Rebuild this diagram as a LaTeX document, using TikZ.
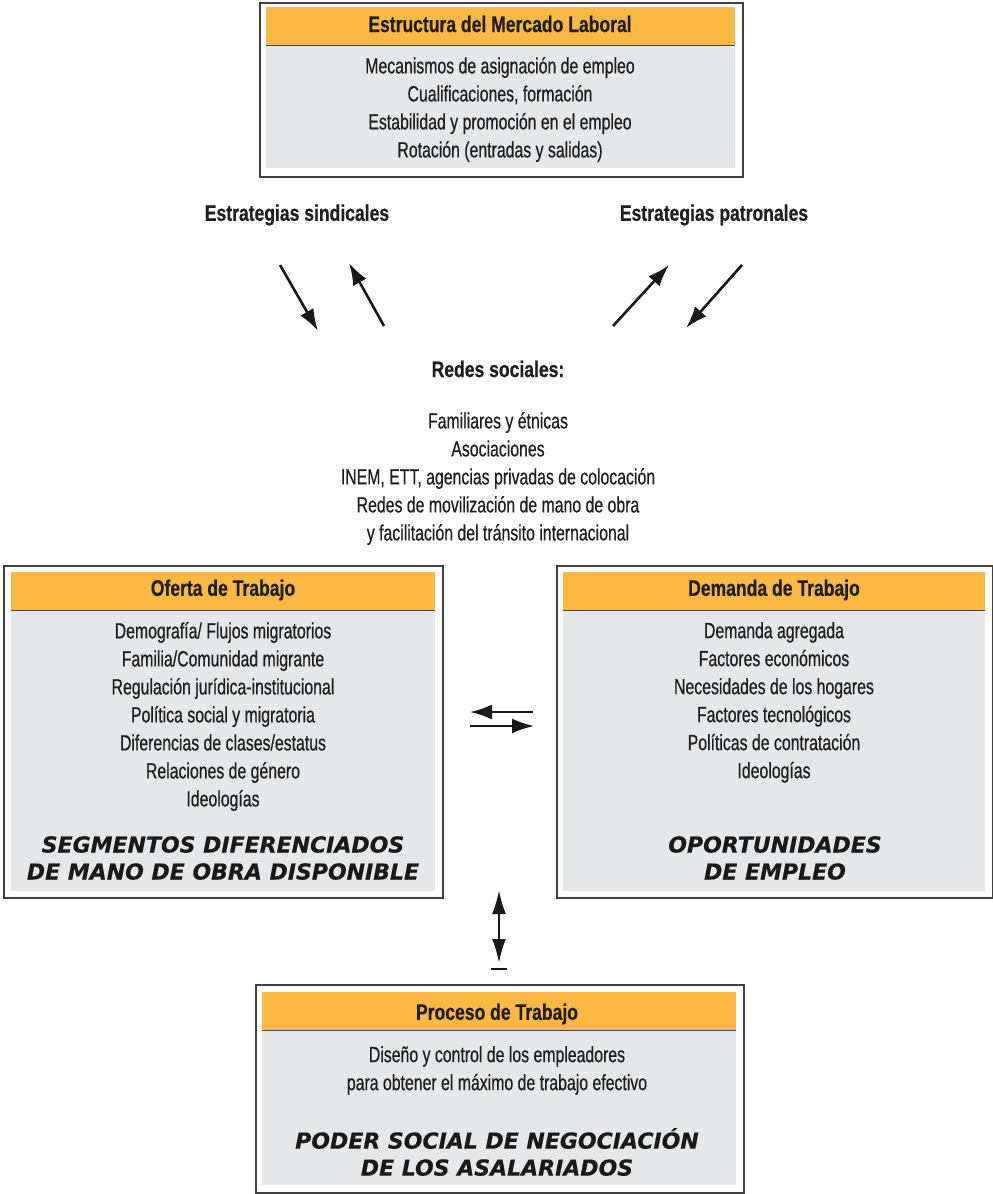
\documentclass[tikz,border=0pt]{standalone}
\usepackage{fontspec}
\setmainfont{Liberation Sans}[FakeStretch=0.72,FakeBold=0.6,BoldFeatures={FakeStretch=0.78}]
\newfontfamily\heavy{DejaVu Sans}[FakeBold=0.5]
\usetikzlibrary{arrows.meta}
\definecolor{hdr}{HTML}{FBB843}
\definecolor{bodyg}{HTML}{E6E7E8}
\definecolor{frm}{HTML}{404040}
\tikzset{
  frame/.style={draw=frm,line width=1.6pt,fill=white,anchor=north west,inner sep=0pt},
  hdrbox/.style={fill=hdr,anchor=north west,inner sep=0pt},
  graybox/.style={fill=bodyg,anchor=north west,inner sep=0pt},
  title/.style={font=\fontsize{22.5}{26}\selectfont\bfseries,text=black!88,inner sep=0pt},
  txt/.style={font=\fontsize{22}{28}\selectfont,text=black!88,align=center,inner sep=0pt},
  big/.style={font=\fontsize{22}{27}\selectfont\heavy\bfseries\itshape,text=black!90,align=center,inner sep=0pt},
  arr/.style={line width=2.6pt,-{Latex[length=22pt,width=15pt]},black!90},
  darr/.style={line width=2.4pt,{Latex[length=24pt,width=14pt]}-{Latex[length=24pt,width=14pt]},black!90},
}
\begin{document}
\begin{tikzpicture}[x=1pt,y=-1pt]
\useasboundingbox (0,0) rectangle (993,1194);
% ---------- top box
\node[frame,minimum width=483pt,minimum height=174pt] (top) at (259,2) {};
\node[graybox,minimum width=469pt,minimum height=161pt] (topg) at (266,7) {};
\node[hdrbox,minimum width=469pt,minimum height=38pt] (toph) at (266,7) {};
\draw[black!70,line width=1pt] (toph.south west) -- (toph.south east);
\node[title] (topt) at (500,24) {Estructura del Mercado Laboral};
\node[txt,anchor=north] (topb) at (500,57) {Mecanismos de asignación de empleo\\Cualificaciones, formación\\Estabilidad y promoción en el empleo\\Rotación (entradas y salidas)};
% ---------- strategies
\node[title] (sind) at (297,215) {Estrategias sindicales};
\node[title] (patr) at (714,215) {Estrategias patronales};
\coordinate (a1s) at (280,265); \coordinate (a1e) at (318,331);
\coordinate (a2s) at (384,326); \coordinate (a2e) at (349,263);
\coordinate (a3s) at (613,326); \coordinate (a3e) at (669,265);
\coordinate (a4s) at (742,265); \coordinate (a4e) at (686,328);
\draw[arr] (a1s) -- (a1e);
\draw[arr] (a2s) -- (a2e);
\draw[arr] (a3s) -- (a3e);
\draw[arr] (a4s) -- (a4e);
% ---------- redes
\node[title] (redes) at (498,369) {Redes sociales:};
\node[txt,anchor=north] (redesb) at (498,412) {Familiares y étnicas\\Asociaciones\\INEM, ETT, agencias privadas de colocación\\Redes de movilización de mano de obra\\y facilitación del tránsito internacional};
% ---------- left box
\node[frame,minimum width=439pt,minimum height=332pt] (of) at (3,565) {};
\node[graybox,minimum width=424pt,minimum height=319pt] (ofg) at (11,572) {};
\node[hdrbox,minimum width=424pt,minimum height=38pt] (ofh) at (11,572) {};
\draw[black!70,line width=1pt] (ofh.south west) -- (ofh.south east);
\node[title] (oft) at (223,590) {Oferta de Trabajo};
\node[txt,anchor=north] (ofb) at (223,622) {Demografía/ Flujos migratorios\\Familia/Comunidad migrante\\Regulación jurídica-institucional\\Política social y migratoria\\Diferencias de clases/estatus\\Relaciones de género\\Ideologías};
\node[big,anchor=north] (ofs) at (223,836) {SEGMENTOS DIFERENCIADOS\\DE MANO DE OBRA DISPONIBLE};
% ---------- right box
\node[frame,minimum width=436pt,minimum height=332pt] (de) at (556,565) {};
\node[graybox,minimum width=422pt,minimum height=319pt] (deg) at (563,572) {};
\node[hdrbox,minimum width=422pt,minimum height=38pt] (deh) at (563,572) {};
\draw[black!70,line width=1pt] (deh.south west) -- (deh.south east);
\node[title] (det) at (774,590) {Demanda de Trabajo};
\node[txt,anchor=north] (deb) at (774,622) {Demanda agregada\\Factores económicos\\Necesidades de los hogares\\Factores tecnológicos\\Políticas de contratación\\Ideologías};
\node[big,anchor=north] (des) at (775,836) {OPORTUNIDADES\\DE EMPLEO};
% ---------- middle arrows
\coordinate (m1s) at (533,712); \coordinate (m1e) at (470,712);
\coordinate (m2s) at (470,726); \coordinate (m2e) at (534,726);
\draw[arr,line width=2.2pt] (m1s) -- (m1e);
\draw[arr,line width=2.2pt] (m2s) -- (m2e);
\coordinate (vs) at (499,890); \coordinate (ve) at (499,963);
\draw[darr] (vs) -- (ve);
\coordinate (bl) at (491,969); \coordinate (br) at (507,969);
\draw[black!90,line width=2.2pt] (bl) -- (br);
% ---------- bottom box
\node[frame,minimum width=488pt,minimum height=208pt] (pt) at (255,984) {};
\node[graybox,minimum width=474pt,minimum height=193pt] (ptg) at (262,992) {};
\node[hdrbox,minimum width=474pt,minimum height=38pt] (pth) at (262,992) {};
\draw[black!70,line width=1pt] (pth.south west) -- (pth.south east);
\node[title] (ptt) at (497,1014) {Proceso de Trabajo};
\node[txt,anchor=north] (ptb) at (497,1046) {Diseño y control de los empleadores\\para obtener el máximo de trabajo efectivo};
\node[big,anchor=north] (pts) at (497,1128) {PODER SOCIAL DE NEGOCIACIÓN\\DE LOS ASALARIADOS};
\end{tikzpicture}
\end{document}
